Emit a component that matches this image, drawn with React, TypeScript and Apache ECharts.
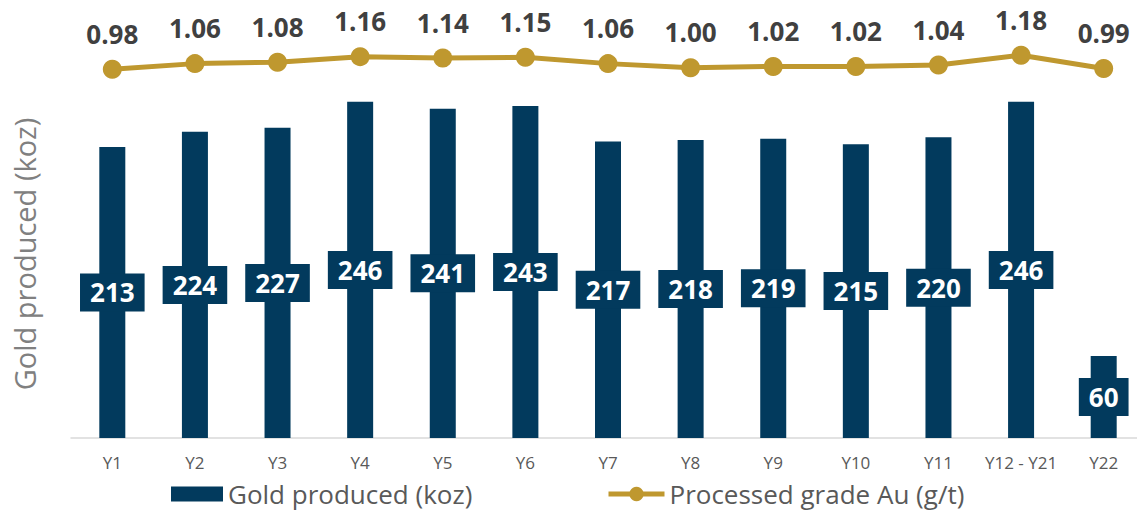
import React, { useEffect, useRef } from "react";
import * as echarts from "echarts";

const categories = ["Y1", "Y2", "Y3", "Y4", "Y5", "Y6", "Y7", "Y8", "Y9", "Y10", "Y11", "Y12 - Y21", "Y22"];
const goldProduced = [213, 224, 227, 246, 241, 243, 217, 218, 219, 215, 220, 246, 60];
const processedGrade = [0.98, 1.06, 1.08, 1.16, 1.14, 1.15, 1.06, 1.0, 1.02, 1.02, 1.04, 1.18, 0.99];

const NAVY = "#023a5d";
const GOLD = "#bf982f";
const FONT = "'Open Sans', sans-serif";

export default function App() {
  const ref = useRef<HTMLDivElement>(null);
  useEffect(() => {
    if (!ref.current) return;
    const chart = echarts.init(ref.current, null, { renderer: "svg" });
    const legendText = { fontSize: 26, lineHeight: 26, color: "#595959", fontFamily: FONT };
    chart.setOption({
      animation: false,
      backgroundColor: "#ffffff",
      textStyle: { fontFamily: FONT },
      grid: { left: 71, right: 0, top: 28, bottom: 74 },
      legend: [
        {
          left: 166,
          top: 476,
          itemWidth: 52,
          itemHeight: 15,
          textStyle: legendText,
          data: [{ name: "Gold produced (koz)", icon: "rect" }],
        },
        {
          left: 601,
          top: 476,
          itemWidth: 56,
          itemHeight: 18,
          lineStyle: { width: 5, color: GOLD },
          textStyle: legendText,
          data: [{ name: "Processed grade Au (g/t)" }],
        },
      ],
      xAxis: {
        type: "category",
        data: categories,
        axisLine: { lineStyle: { color: "#d9d9d9", width: 1.5 } },
        axisTick: { interval: 0, length: 7, lineStyle: { color: "#d9d9d9", width: 1.5 } },
        axisLabel: { interval: 0, color: "#595959", fontSize: 17, margin: 16, fontFamily: FONT },
      },
      yAxis: [
        { type: "value", min: 0, max: 300, show: false, splitLine: { show: false } },
        { type: "value", min: -4.3, max: 1.57, show: false, splitLine: { show: false } },
      ],
      graphic: [
        {
          type: "text",
          x: 24,
          y: 254,
          rotation: Math.PI / 2,
          style: {
            text: "Gold produced (koz)",
            fill: "#808080",
            fontSize: 29,
            fontFamily: FONT,
            align: "center",
            verticalAlign: "middle",
          },
        },
      ],
      series: [
        {
          name: "Gold produced (koz)",
          type: "bar",
          data: goldProduced,
          barWidth: 26,
          itemStyle: { color: NAVY },
          label: {
            show: true,
            position: "inside",
            color: "#ffffff",
            fontWeight: "bold",
            fontSize: 26,
            fontFamily: FONT,
            backgroundColor: NAVY,
            padding: [6, 10, 6, 10],
          },
        },
        {
          name: "Processed grade Au (g/t)",
          type: "line",
          yAxisIndex: 1,
          data: processedGrade,
          symbol: "circle",
          symbolSize: 19,
          lineStyle: { color: GOLD, width: 5 },
          itemStyle: { color: GOLD },
          label: {
            show: true,
            position: "top",
            distance: 13,
            color: "#404040",
            fontWeight: "bold",
            fontSize: 26,
            fontFamily: FONT,
            formatter: (p: any) => Number(p.value).toFixed(2),
          },
        },
      ],
    });
    return () => chart.dispose();
  }, []);
  return <div ref={ref} style={{ position: "fixed", left: 0, top: 0, width: 1145, height: 512 }} />;
}
